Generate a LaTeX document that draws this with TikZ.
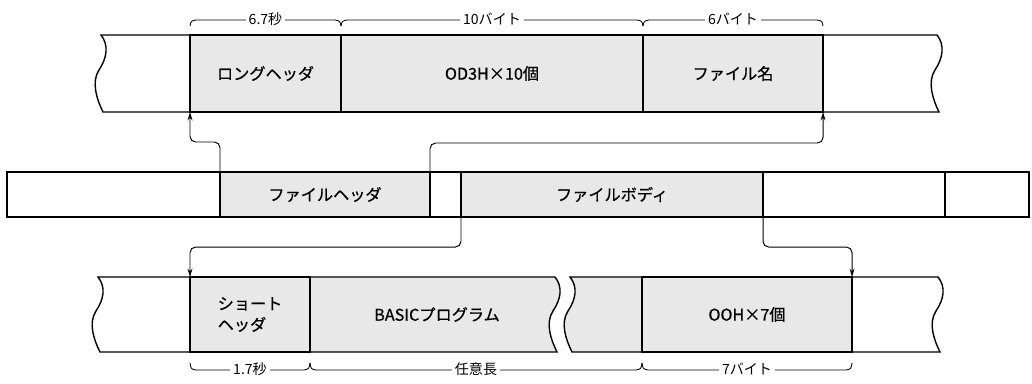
\documentclass[tikz,border=0pt]{standalone}
\usepackage{fontspec}
\setmainfont{Noto Sans CJK JP}
\newfontfamily\jpmed{Noto Sans CJK JP}[FakeBold=0.6]
\usetikzlibrary{arrows.meta}
\begin{document}
\begin{tikzpicture}[x=0.025cm,y=-0.025cm]
\tikzstyle{cell} = [draw, line width=1pt, fill=black!9, inner sep=0, outer sep=0, anchor=north west, font=\jpmed\fontsize{11.5}{15}\selectfont]
\tikzstyle{blank} = [cell, fill=white]
\tikzstyle{edge} = [draw, line width=1pt]
\tikzstyle{link} = [-{Stealth[length=6pt,width=3.5pt]}, line width=0.7pt, rounded corners=4pt]
\tikzstyle{brace} = [draw, line width=0.6pt]
\tikzstyle{lbl} = [fill=white, inner xsep=2pt, inner ysep=1pt, font=\fontsize{10}{11}\selectfont]
\useasboundingbox (0,0) rectangle (1032,383);

% top row
\node [cell, minimum width=3.775cm, minimum height=1.925cm] (lhead) at (190,35) {ロングヘッダ};
\node [cell, minimum width=7.55cm, minimum height=1.925cm] (od3h) at (341,35) {OD3H×10個};
\node [cell, minimum width=4.5cm, minimum height=1.925cm] (fname) at (643,35) {ファイル名};
\draw [edge] (190,35) -- (101,35) .. controls +(8,10) and +(8,-12) .. ++(-2,35)
	.. controls +(-8,12) and +(-6,-12) .. ++(4,42) -- (190,112);
\draw [edge] (823,35) -- (937,35) .. controls +(8,10) and +(8,-12) .. ++(-2,35)
	.. controls +(-8,12) and +(-6,-12) .. ++(4,42) -- (823,112);
\foreach \a/\b/\t in {190/341/6.7秒, 341/643/10バイト, 643/823/6バイト}
{
	\draw [brace] (\a,26) .. controls (\a+1,21) .. (\a+6,20) -- (\b-6,20) .. controls (\b-1,21) .. (\b,26);
	\node [lbl] (t\a) at ({(\a+\b)/2},19) {\t};
}

% middle row
\node [blank, minimum width=5.325cm, minimum height=1.125cm] (m0) at (7,172) {};
\node [cell, minimum width=5.25cm, minimum height=1.125cm] (fhead) at (220,172) {ファイルヘッダ};
\node [blank, minimum width=0.775cm, minimum height=1.125cm] (gap) at (430,172) {};
\node [cell, minimum width=7.55cm, minimum height=1.125cm] (fbody) at (461,172) {ファイルボディ};
\node [blank, minimum width=4.55cm, minimum height=1.125cm] (m4) at (763,172) {};
\node [blank, minimum width=2.1cm, minimum height=1.125cm] (m5) at (945,172) {};

% bottom row
\filldraw [edge, fill=black!9] (310,277) -- (555,277) .. controls +(8,10) and +(8,-12) .. ++(-2,34)
	.. controls +(-8,12) and +(-6,-12) .. ++(4,41) -- (310,352);
\filldraw [edge, fill=black!9] (642,277) -- (570,277) .. controls +(8,10) and +(8,-12) .. ++(-2,34)
	.. controls +(-8,12) and +(-6,-12) .. ++(4,41) -- (642,352);
\node [font=\jpmed\fontsize{11.5}{15}\selectfont] (basic) at (437,314.5) {BASICプログラム};
\node [cell, minimum width=3cm, minimum height=1.875cm, align=left] (shead) at (190,277) {ショート\\ヘッダ};
\node [cell, minimum width=5.25cm, minimum height=1.875cm] (zero) at (642,277) {OOH×7個};
\draw [edge] (190,277) -- (98,277) .. controls +(8,10) and +(8,-12) .. ++(-2,34)
	.. controls +(-8,12) and +(-6,-12) .. ++(4,41) -- (190,352);
\draw [edge] (852,277) -- (938,277) .. controls +(8,10) and +(8,-12) .. ++(-2,34)
	.. controls +(-8,12) and +(-6,-12) .. ++(4,41) -- (852,352);
\foreach \a/\b/\t in {190/310/1.7秒, 310/642/任意長, 642/852/7バイト}
{
	\draw [brace] (\a,363) .. controls (\a+1,369) .. (\a+6,370) -- (\b-6,370) .. controls (\b-1,369) .. (\b,363);
	\node [lbl] (b\a) at ({(\a+\b)/2},369) {\t};
}

% arrows
\draw [link] (fhead.north west) -- ++(0,-30) -| (lhead.south west);
\draw [link] (gap.north west) -- ++(0,-29) -| (fname.south east);
\draw [link] (fbody.south west) -- ++(0,30) -| (shead.north west);
\draw [link] (m4.south west) -- ++(0,30) -| (zero.north east);
\end{tikzpicture}
\end{document}
